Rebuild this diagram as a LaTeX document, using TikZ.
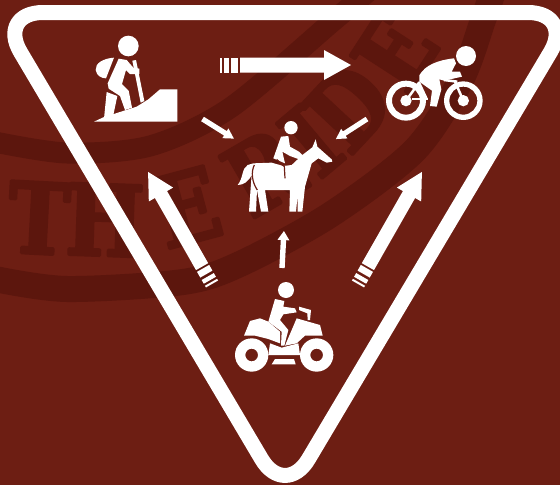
\documentclass[tikz,border=0pt]{standalone}
\usepackage{fontspec}
\newfontfamily\stampfont{DejaVu Serif}[FakeStretch=0.84,FakeBold=3]
\definecolor{signred}{HTML}{6D1E13}
\definecolor{stampred}{HTML}{5C160D}
\newcommand{\stripedarrow}[5]{
	\begin{scope}[shift={(#1)},rotate=#2]
		\fill (0,-#4) rectangle (2,#4);
		\fill (4.3,-#4) rectangle (8.6,#4);
		\fill (11.4,-#4) rectangle (18,#4);
		\fill (20,-#4) -- (#3-#5,-#4) -- (#3-#5,-2*#4) -- (#3,0) -- (#3-#5,2*#4) -- (#3-#5,#4) -- (20,#4) -- cycle;
	\end{scope}
}
\newcommand{\plainarrow}[5]{
	\begin{scope}[shift={(#1)},rotate=#2]
		\fill (0,-#4) -- (#3-#5,-#4) -- (#3-#5,-2.2*#4) -- (#3,0) -- (#3-#5,2.2*#4) -- (#3-#5,#4) -- (0,#4) -- cycle;
	\end{scope}
}
\tikzset{stampletter/.style={text=stampred,font=\stampfont\fontsize{98}{98}\selectfont\bfseries,inner sep=0pt}}
\begin{document}
\begin{tikzpicture}[x=1pt,y=-1pt,line join=round,line cap=round]
	\useasboundingbox (0,0) rectangle (560,485);
	\fill[signred] (0,0) rectangle (560,485);
	\draw[stampred,line width=21pt,line cap=butt] plot[smooth] coordinates {(-5,142) (67,153) (150,146) (230,108) (332,22) (370,-10)};
	\draw[stampred,line width=26pt,line cap=butt] plot[smooth] coordinates {(-5,279) (67,289) (183,282) (240,264) (330,215) (415,150) (461,80) (483,20) (492,-5)};
	\node[stampletter,rotate=-3] (letterT) at (39,218) {T};
	\node[stampletter,rotate=-2] (letterH) at (105,220) {H};
	\node[stampletter,rotate=15] (letterE) at (187,207) {E};
	\node[stampletter,rotate=30] (letterR) at (263,172) {R};
	\node[stampletter,rotate=40] (letterI) at (311,141) {I};
	\node[stampletter,rotate=47] (letterD) at (348,107) {D};
	\node[stampletter,rotate=57] (letterEnd) at (395,52) {E};
	\draw[white,line width=15pt,line join=round] (285,12.5) [rounded corners=46pt] -- (574,12.5) -- (285,498.6) -- (-3,12.5) -- cycle;
	\begin{scope}[white]
		\stripedarrow{220,65}{0}{131}{7.5}{27}
		\stripedarrow{212,284}{119.7}{129}{7}{26}
		\stripedarrow{358,284}{60.3}{129}{7}{26}
		\plainarrow{202.5,119}{-32}{37}{2.6}{10}
		\plainarrow{367,119}{212.8}{37}{2.6}{10}
		\plainarrow{282,268}{87}{37}{2.7}{9}
	\end{scope}
	\begin{scope}[white,shift={(70,20)},scale=1/3]
		\fill (175,78) circle (31);
		\fill (132,113) .. controls (100,115) and (75,130) .. (77,150) .. controls (80,168) and (95,175) .. (108,175) -- cycle;
		\fill (146,116) -- (170,120) -- (190,143) -- (208,146) -- (208,162) -- (180,162) -- (168,150) -- (156,192) -- (176,212) -- (186,263) -- (165,270) -- (150,228) -- (116,206) -- (113,190) -- cycle;
		\fill (110,216) -- (142,228) -- (130,285) -- (102,296) -- cycle;
		\fill (187,122) -- (198,120) -- (223,243) -- (212,248) -- cycle;
		\fill (72,305) -- (100,292) -- (200,260) -- (235,238) -- (270,208) -- (322,208) -- (322,305) -- cycle;
	\end{scope}
	\begin{scope}[white,shift={(370,30)},scale=1/3]
		\fill (288,78) circle (30);
		\fill[even odd rule] (108,212) circle (60) (108,212) circle (42);
		\fill[even odd rule] (280,212) circle (58) (280,212) circle (42);
		\fill (108,212) circle (17);
		\fill (280,212) circle (17);
		\fill (125,204) rectangle (175,211);
		\draw[line width=2.5pt,line cap=butt] (108,212) -- (147,158) -- (170,207);
		\draw[line width=2.5pt,line cap=butt] (280,212) -- (255,155);
		\draw[line width=2.5pt,line cap=butt] (222,150) -- (262,155);
		\fill (148,136) .. controls (165,105) and (205,90) .. (252,85) -- (258,100) -- (245,125) -- (270,125) -- (276,140) -- (222,152) -- (208,148) -- (214,178) -- (200,230) -- (180,228) -- (186,182) -- (148,155) -- cycle;
	\end{scope}
	\begin{scope}[white,shift={(225,110)},scale=1/3]
		\fill (198,53) circle (20);
		\fill (168,80) -- (190,78) -- (195,110) -- (222,125) -- (237,140) -- (228,150) -- (195,138) -- (172,125) -- (180,160) -- (145,145) -- cycle;
		\fill (68,165) .. controls (50,175) and (55,205) .. (38,225) .. controls (55,225) and (70,215) .. (80,195) -- (78,220) -- (72,305) -- (93,305) -- (96,240) -- (108,305) -- (130,305) -- (120,240) -- (195,240) -- (193,305) -- (213,305) -- (218,255) -- (218,305) -- (232,305) -- (240,230) -- (260,160) -- (280,145) -- (305,158) -- (322,155) -- (320,148) -- (277,110) -- (272,88) -- (262,112) -- (232,135) -- (200,165) -- (175,168) -- (140,158) -- (85,160) -- cycle;
		\draw[signred,line width=1.2pt,line cap=butt] (155,148) -- (178,170) -- (180,205);
		\draw[signred,line width=1.2pt,line cap=butt] (88,165) .. controls (78,185) and (80,215) .. (97,240);
	\end{scope}
	\begin{scope}[white,shift={(225,275)},scale=1/3]
		\fill (183,45) circle (24);
		\fill (150,72) -- (178,78) -- (175,95) -- (210,100) -- (215,112) -- (175,118) -- (165,135) -- (190,165) -- (178,212) -- (168,212) -- (170,170) -- (130,140) -- cycle;
		\fill (222,95) -- (258,105) -- (255,135) -- (248,135) -- (247,115) -- (222,105) -- cycle;
		\fill (75,138) -- (105,130) -- (130,140) -- (165,170) -- (165,205) -- (130,192) -- (90,182) -- (57,182) -- cycle;
		\fill (215,130) -- (285,150) -- (293,182) -- (240,182) -- (215,205) -- (180,212) -- cycle;
		\fill (135,205) -- (170,218) -- (220,205) -- (225,240) -- (130,240) -- cycle;
		\fill (150,252) -- (207,252) -- (212,268) -- (140,268) -- cycle;
		\fill[even odd rule] (80,240) circle (50) (80,240) circle (19);
		\fill[even odd rule] (275,240) circle (50) (275,240) circle (19);
	\end{scope}
\end{tikzpicture}
\end{document}
